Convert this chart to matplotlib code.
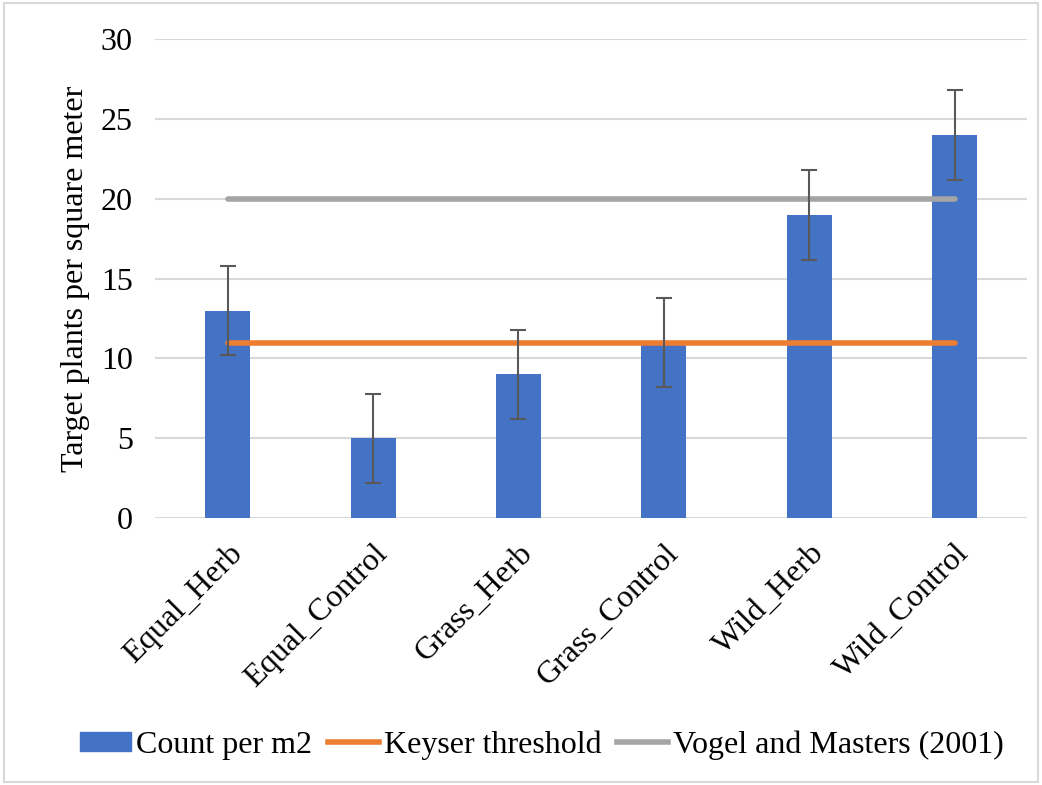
import matplotlib
matplotlib.use('Agg')
import matplotlib.pyplot as plt
from matplotlib.patches import Rectangle, Patch
from matplotlib.lines import Line2D
import numpy as np

# data
categories = ['Equal_Herb', 'Equal_Control', 'Grass_Herb', 'Grass_Control', 'Wild_Herb', 'Wild_Control']
counts = [13, 5, 9, 11, 19, 24]
errors = [2.8, 2.8, 2.8, 2.8, 2.8, 2.8]
keyser = [11, 11, 11, 11, 11, 11]
vogel = [20, 20, 20, 20, 20, 20]

plt.rcParams['font.family'] = ['Liberation Serif', 'DejaVu Serif']

fig = plt.figure(figsize=(10.42, 7.85), dpi=100)
ax = fig.add_axes([0.1488, 0.340, 0.837, 0.610])

x = np.arange(len(categories))
ax.bar(x, counts, width=0.31, color='#4472C4', zorder=2)
ax.errorbar(x, counts, yerr=errors, fmt='none', ecolor='#595959', elinewidth=1.5,
            capsize=6, capthick=1.5, zorder=4)
ax.plot(x, keyser, color='#ED7D31', lw=4, solid_capstyle='round', zorder=3)
ax.plot(x, vogel, color='#A5A5A5', lw=4, solid_capstyle='round', zorder=3)

ax.set_xlim(-0.5, len(categories) - 0.5)
ax.set_ylim(0, 30)
ax.set_yticks([0, 5, 10, 15, 20, 25, 30])
ax.yaxis.grid(True, color='#D9D9D9', lw=1.5, zorder=0)
ax.set_axisbelow(True)
for s in ax.spines.values():
    s.set_visible(False)
ax.tick_params(axis='both', length=0, labelsize=23, colors='black')
ax.tick_params(axis='y', pad=16)
ax.set_xticks(x)
ax.set_xticklabels(categories, rotation=45, ha='right', rotation_mode='anchor')
ax.tick_params(axis='x', pad=15)
ax.set_ylabel('Target plants per square meter', fontsize=23, labelpad=8)

handles = [Patch(color='#4472C4'),
           Line2D([], [], color='#ED7D31', lw=4),
           Line2D([], [], color='#A5A5A5', lw=4)]
labels = ['Count per m2', 'Keyser threshold', 'Vogel and Masters (2001)']
fig.legend(handles, labels, loc='center', bbox_to_anchor=(0.52, 0.051), ncol=3,
           frameon=False, fontsize=23, handlelength=1.6, handleheight=0.56,
           handletextpad=0.15, columnspacing=0.5)

fig.add_artist(Rectangle((0.004, 0.004), 0.992, 0.992, transform=fig.transFigure,
                         fill=False, edgecolor='#D9D9D9', lw=1.5))

fig.savefig('out.png', dpi=100)
